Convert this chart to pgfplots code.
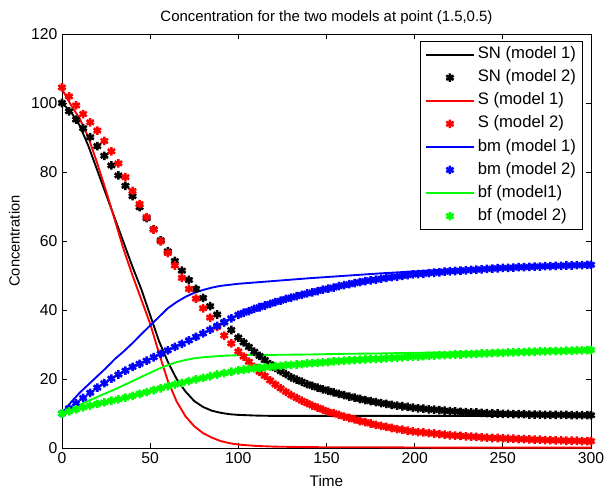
\documentclass[border=0pt]{standalone}
\usepackage{pgfplots}
\pgfplotsset{compat=1.18}
\usepackage{pgfplotstable}
\usepackage{fontspec}
\setmainfont{Liberation Sans}

\pgfplotstableread{
x sn s bm bf
0 100 104.5 10.0 10.0
4 97.6 101.9 11.5 10.6
8 95.2 99.3 13.0 11.2
12 92.7 96.8 14.5 11.8
16 90.1 94.4 16.0 12.3
20 87.5 92.0 17.5 12.8
24 84.7 89.0 18.8 13.2
28 81.9 86.0 20.1 13.7
32 79.0 82.5 21.3 14.1
36 76.0 78.5 22.4 14.6
40 73.0 74.5 23.5 15.1
44 69.8 70.7 24.4 15.7
48 66.6 66.9 25.3 16.2
52 63.4 63.3 26.3 16.8
56 60.2 59.9 27.3 17.3
60 57.0 56.5 28.3 17.9
64 54.2 52.9 29.3 18.4
68 51.4 49.3 30.2 18.9
72 48.7 46.1 31.2 19.4
76 46.1 43.3 32.2 19.9
80 43.5 40.5 33.2 20.3
84 41.1 37.8 34.3 20.8
88 38.7 35.1 35.4 21.3
92 36.4 32.6 36.5 21.7
96 34.2 30.3 37.6 22.1
100 32.0 28.0 38.6 22.5
103 30.6 26.5 39.2 22.7
106 29.3 25.0 39.7 22.9
109 27.9 23.5 40.3 23.1
112 26.7 22.1 40.8 23.2
115 25.5 20.9 41.3 23.4
118 24.3 19.6 41.8 23.5
121 23.2 18.4 42.3 23.7
124 22.3 17.3 42.7 23.8
127 21.4 16.3 43.2 24.0
130 20.5 15.3 43.6 24.1
133 19.8 14.5 44.0 24.2
136 19.2 13.7 44.4 24.3
139 18.5 13.0 44.8 24.5
142 18.0 12.3 45.1 24.6
145 17.5 11.7 45.5 24.7
148 17.0 11.1 45.9 24.8
151 16.6 10.5 46.2 24.9
154 16.1 10.1 46.5 25.1
157 15.7 9.6 46.9 25.2
160 15.3 9.1 47.2 25.3
163 14.9 8.7 47.5 25.4
166 14.6 8.3 47.8 25.5
169 14.2 7.8 48.1 25.6
172 13.9 7.5 48.4 25.7
175 13.6 7.1 48.6 25.8
178 13.3 6.7 48.8 25.8
181 13.0 6.4 49.1 25.9
184 12.8 6.1 49.3 26.0
187 12.5 5.8 49.5 26.1
190 12.3 5.5 49.7 26.2
193 12.1 5.3 49.9 26.3
196 11.9 5.0 50.1 26.4
199 11.7 4.8 50.3 26.5
202 11.5 4.6 50.4 26.5
205 11.4 4.5 50.5 26.6
208 11.2 4.3 50.7 26.7
211 11.1 4.2 50.8 26.8
214 11.0 4.0 50.9 26.9
217 10.8 3.9 51.1 26.9
220 10.7 3.7 51.2 27.0
223 10.6 3.6 51.3 27.1
226 10.5 3.5 51.4 27.1
229 10.4 3.4 51.5 27.2
232 10.3 3.3 51.6 27.2
235 10.3 3.2 51.7 27.3
238 10.2 3.1 51.8 27.4
241 10.1 3.0 51.9 27.4
244 10.0 2.9 52.0 27.5
247 10.0 2.9 52.1 27.6
250 9.9 2.8 52.2 27.6
253 9.9 2.7 52.2 27.7
256 9.8 2.7 52.3 27.7
259 9.8 2.6 52.4 27.8
262 9.8 2.6 52.4 27.8
265 9.7 2.5 52.5 27.9
268 9.7 2.4 52.6 27.9
271 9.7 2.4 52.6 28.0
274 9.6 2.3 52.7 28.0
277 9.6 2.3 52.7 28.1
280 9.6 2.2 52.8 28.1
283 9.6 2.2 52.8 28.1
286 9.6 2.1 52.9 28.2
289 9.5 2.1 52.9 28.2
292 9.5 2.1 53.0 28.3
295 9.5 2.0 53.0 28.3
298 9.5 2.0 53.1 28.4
300 9.5 2.0 53.1 28.4
}\modeltwo

\pgfplotstableread{
x sn s bm bf
0 100 104 10 10
5 97.5 99.5 13.2 11.3
10 93.5 95.5 16.0 12.5
15 87.5 90.0 18.4 13.7
20 80.5 82.5 20.8 14.8
25 73.5 74.5 23.2 15.9
30 66.5 66.0 25.8 17.0
35 59.5 57.5 28.0 18.2
40 52.5 50.0 30.4 19.4
45 46.0 43.0 33.0 20.6
50 38.5 36.0 35.5 21.8
55 31.0 27.5 38.0 23.0
60 25.0 19.5 40.5 24.0
65 20.0 13.5 42.3 24.9
70 16.4 9.2 43.8 25.5
75 13.6 6.3 45.0 26.0
80 11.9 4.3 45.8 26.3
85 10.8 3.0 46.5 26.5
90 10.2 2.0 47.0 26.7
95 9.8 1.4 47.3 26.8
100 9.6 1.0 47.6 26.9
110 9.4 0.6 48.0 27.0
120 9.3 0.4 48.4 27.0
140 9.3 0.25 49.2 27.1
160 9.3 0.2 49.9 27.3
180 9.3 0.2 50.6 27.4
200 9.3 0.15 51.2 27.6
220 9.3 0.1 51.8 27.7
240 9.3 0.1 52.2 27.9
260 9.3 0.1 52.6 28.0
280 9.3 0.1 52.9 28.2
300 9.3 0.1 53.2 28.3
}\modelone

\begin{document}
\begin{tikzpicture}
\useasboundingbox (-46.5pt,-31.5pt) rectangle (406.5pt,336pt);
\begin{axis}[
  at={(0,0)}, anchor=south west,
  scale only axis, width=396.75pt, height=310.5pt,
  xmin=0, xmax=300, ymin=0, ymax=120,
  xtick={0,50,...,300}, ytick={0,20,...,120},
  tick align=inside, xtick pos=both, ytick pos=both,
  major tick length=4pt,
  axis line style={line width=0.6pt},
  every tick/.style={black, line width=0.6pt},
  /pgf/number format/assume math mode=true,
  tick label style={font=\fontsize{11.8}{14}\selectfont},
  title={Concentration for the two models at point (1.5,0.5)},
  title style={font=\fontsize{11.2}{13}\selectfont, anchor=base, at={(axis description cs:0.5,1)}, yshift=3.5pt},
  xlabel={Time}, ylabel={Concentration},
  xlabel style={font=\fontsize{11.5}{13}\selectfont, anchor=base, at={(axis description cs:0.5,-0.094)}},
  ylabel style={font=\fontsize{11}{13}\selectfont, anchor=center, at={(axis description cs:-0.09,0.5)}},
  clip=false,
  legend style={at={(0.985,0.983)}, anchor=north east, draw=black, line width=0.6pt,
    font=\fontsize{12.5}{14}\selectfont, inner xsep=3pt, inner ysep=2pt,
    nodes={text height=9pt, text depth=2.8pt, inner sep=2pt},
    row sep=1.5pt},
  legend cell align=left,
  legend image code/.code={\draw[mark repeat=2,mark phase=2,#1] plot coordinates {(0cm,0cm) (0.64cm,0cm) (1.28cm,0cm)};},
  line mk/.style={line width=1.4pt, no markers},
  star mk/.style={only marks, mark=asterisk, mark size=3.2pt, mark options={line width=1.9pt}},
]
\addplot[black, line mk] table[x=x, y=sn] {\modelone};
\addlegendentry{SN (model 1)}
\addplot[black, star mk] table[x=x, y=sn] {\modeltwo};
\addlegendentry{SN (model 2)}
\addplot[red, line mk] table[x=x, y=s] {\modelone};
\addlegendentry{S (model 1)}
\addplot[red, star mk] table[x=x, y=s] {\modeltwo};
\addlegendentry{S (model 2)}
\addplot[blue, line mk] table[x=x, y=bm] {\modelone};
\addlegendentry{bm (model 1)}
\addplot[blue, star mk] table[x=x, y=bm] {\modeltwo};
\addlegendentry{bm (model 2)}
\addplot[green, line mk] table[x=x, y=bf] {\modelone};
\addlegendentry{bf (model1)}
\addplot[green, star mk] table[x=x, y=bf] {\modeltwo};
\addlegendentry{bf (model 2)}
\end{axis}
\end{tikzpicture}
\end{document}
